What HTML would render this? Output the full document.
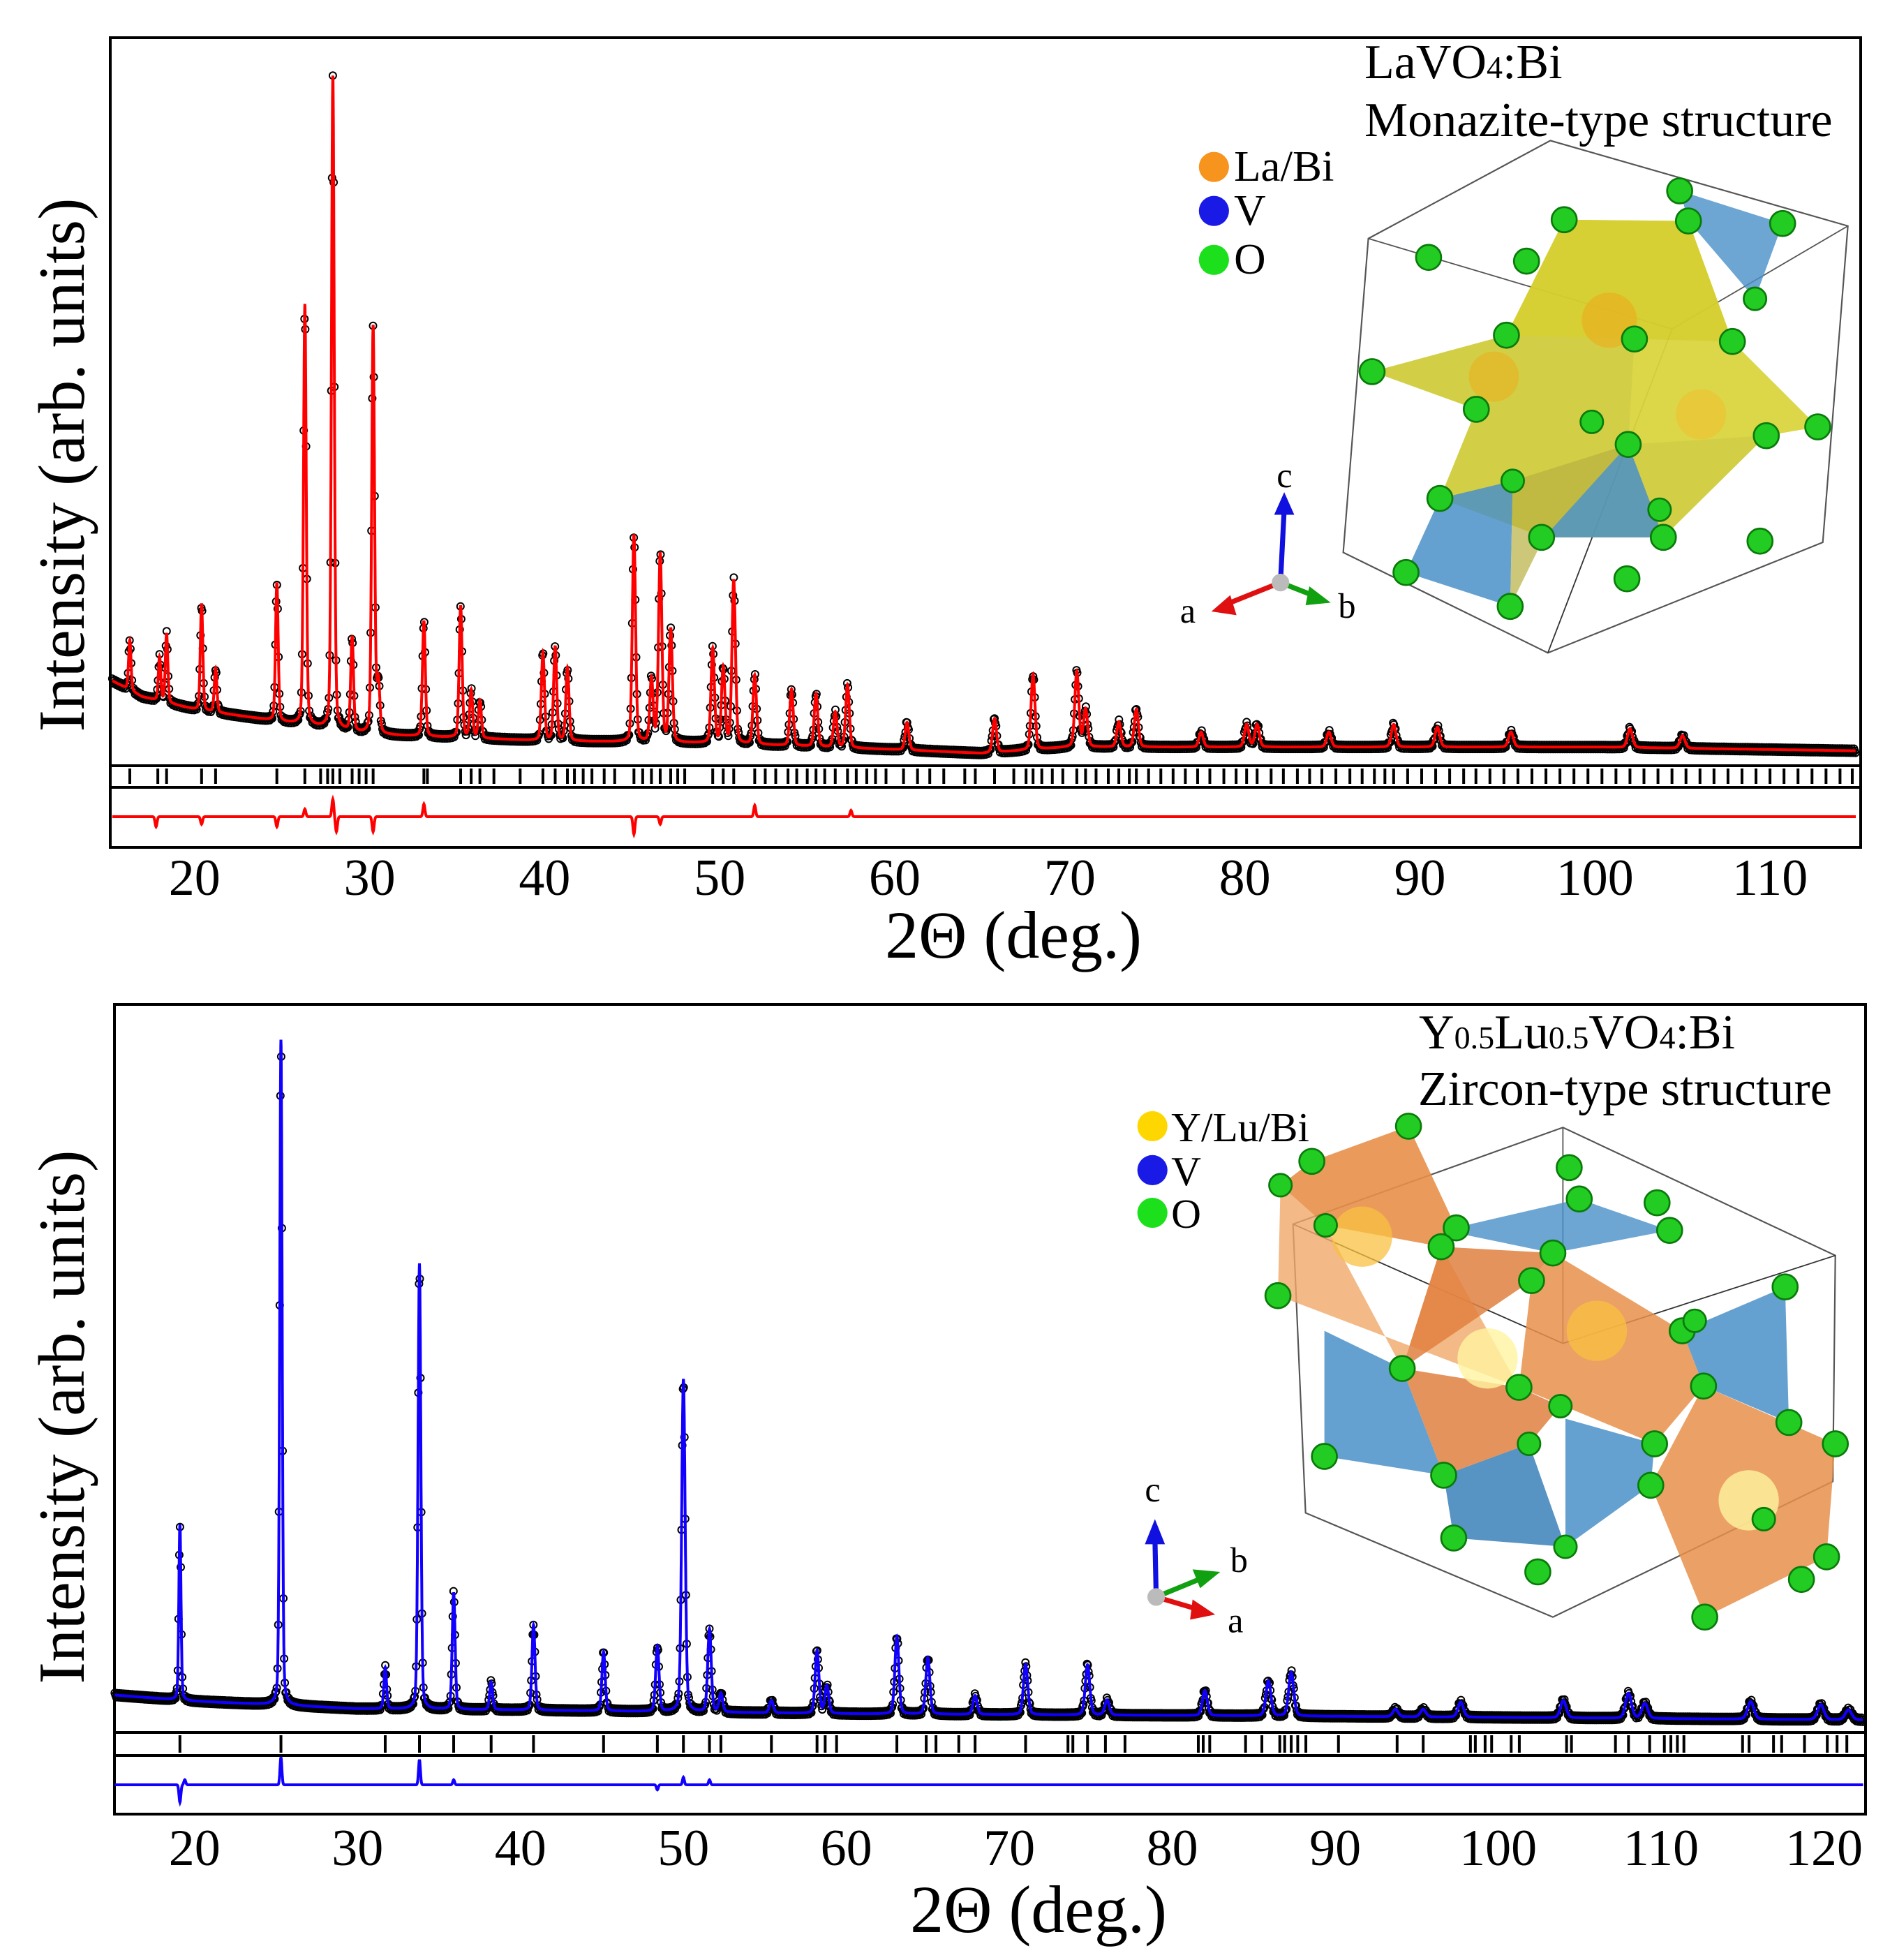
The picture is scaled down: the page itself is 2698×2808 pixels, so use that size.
<!DOCTYPE html>
<html><head><meta charset="utf-8"><title>XRD Rietveld refinement</title>
<style>
html,body{margin:0;padding:0;background:#fff}
svg{display:block}
text{font-family:"Liberation Serif",serif;fill:#000}
</style></head>
<body>
<svg id="fig" width="2698" height="2808" viewBox="0 0 2698 2808" xmlns="http://www.w3.org/2000/svg">
<rect width="2698" height="2808" fill="#fff"/>
<!-- TOP PANEL -->
<g id="top">
 <rect x="158" y="54" width="2508" height="1160" fill="none" stroke="#000" stroke-width="4"/>
 <line x1="158" y1="1097" x2="2666" y2="1097" stroke="#000" stroke-width="4"/>
 <line x1="158" y1="1128" x2="2666" y2="1128" stroke="#000" stroke-width="4"/>
 <g id="topObs"></g>
 <path id="topCalc" fill="none" stroke="#f00" stroke-width="4"/>
 <g id="topRefl"></g>
 <path id="topDiff" fill="none" stroke="#f00" stroke-width="4"/>
 <g id="topXT"></g>
 <text x="1452" y="1372" font-size="96" text-anchor="middle">2Θ (deg.)</text>
 <text transform="translate(120,666) rotate(-90)" font-size="94" text-anchor="middle">Intensity (arb. units)</text>
 <text x="1955" y="112" font-size="70">LaVO<tspan font-size="46">4</tspan>:Bi</text>
 <text x="1955" y="195" font-size="70">Monazite-type structure</text>
 <g transform="scale(1.7987)">
  <circle cx="967" cy="133" r="12" fill="#f7941d"/><text x="983" y="144" font-size="35">La/Bi</text>
  <circle cx="967" cy="168" r="12" fill="#1a1ae6"/><text x="983" y="179" font-size="35">V</text>
  <circle cx="967" cy="207" r="12" fill="#1be01b"/><text x="983" y="218" font-size="35">O</text>
 </g>
 <g transform="scale(1.7987)">
  <polygon points="1090,190 1235,112 1472,180 1452,432 1233,520 1070,440" fill="none" stroke="#555" stroke-width="1.2"/>
  <polyline points="1090,190 1332,262 1472,180" fill="none" stroke="#555" stroke-width="1"/>
  <line x1="1332" y1="262" x2="1233" y2="520" stroke="#333" stroke-width="1"/>
  <polygon points="1338,152 1420,178 1398,238 1345,176" fill="#4a90c8" opacity="0.8"/>
  <polygon points="1093,296 1200,267 1246,175 1345,176 1380,272 1448,340 1407,347 1325,428 1230,428 1147,397 1176,326" fill="#c8c41e" opacity="0.82"/>
  <polygon points="1246,175 1345,176 1380,272 1302,270 1200,267" fill="#d8d030" opacity="0.8"/>
  <polygon points="1302,270 1380,272 1448,340 1407,347 1297,354" fill="#e0d84a" opacity="0.7"/>
  <polygon points="1147,397 1205,383 1203,483 1120,456" fill="#4a90c8" opacity="0.85"/>
  <polygon points="1230,428 1297,354 1325,428" fill="#4a90c8" opacity="0.85"/>
  <polygon points="1205,383 1297,354 1230,428 1203,483" fill="#b8b040" opacity="0.7"/>
  <circle cx="1282" cy="255" r="22" fill="#e8b020" opacity="0.7"/>
  <circle cx="1190" cy="300" r="20" fill="#e8b020" opacity="0.6"/>
  <circle cx="1355" cy="330" r="20" fill="#f0c030" opacity="0.6"/>
  <g fill="#22cc22" stroke="#0a7a0a" stroke-width="1.5">
   <circle cx="1138" cy="205" r="10"/><circle cx="1216" cy="208" r="10"/><circle cx="1246" cy="175" r="10"/><circle cx="1345" cy="176" r="10"/><circle cx="1338" cy="152" r="10"/><circle cx="1420" cy="178" r="10"/><circle cx="1398" cy="238" r="9"/><circle cx="1200" cy="267" r="10"/><circle cx="1302" cy="270" r="10"/><circle cx="1380" cy="272" r="10"/><circle cx="1093" cy="296" r="10"/><circle cx="1176" cy="326" r="10"/><circle cx="1407" cy="347" r="10"/><circle cx="1448" cy="340" r="10"/><circle cx="1297" cy="354" r="10"/><circle cx="1268" cy="336" r="9"/><circle cx="1147" cy="397" r="10"/><circle cx="1205" cy="383" r="9"/><circle cx="1228" cy="428" r="10"/><circle cx="1325" cy="428" r="10"/><circle cx="1402" cy="431" r="10"/><circle cx="1120" cy="456" r="10"/><circle cx="1296" cy="461" r="10"/><circle cx="1203" cy="483" r="10"/><circle cx="1322" cy="406" r="9"/>
  </g>
  <g>
   <line x1="1020" y1="464" x2="1023" y2="405" stroke="#1010e0" stroke-width="4"/><polygon points="1015,410 1031,410 1023,392" fill="#1010e0"/>
   <line x1="1020" y1="464" x2="975" y2="482" stroke="#e01010" stroke-width="4"/><polygon points="980,474 985,490 965,487" fill="#e01010"/>
   <line x1="1020" y1="464" x2="1048" y2="475" stroke="#10a010" stroke-width="4"/><polygon points="1043,467 1040,482 1060,480" fill="#10a010"/>
   <circle cx="1020" cy="464" r="7" fill="#bbb"/>
   <text x="1017" y="388" font-size="28">c</text><text x="940" y="496" font-size="28">a</text><text x="1066" y="492" font-size="28">b</text>
  </g>
 </g>
</g>
<!-- BOTTOM PANEL -->
<g id="bot">
 <rect x="164" y="1439" width="2509" height="1160" fill="none" stroke="#000" stroke-width="4"/>
 <line x1="164" y1="2482" x2="2673" y2="2482" stroke="#000" stroke-width="4"/>
 <line x1="164" y1="2515" x2="2673" y2="2515" stroke="#000" stroke-width="4"/>
 <g id="botObs"></g>
 <path id="botCalc" fill="none" stroke="#10f" stroke-width="4"/>
 <g id="botRefl"></g>
 <path id="botDiff" fill="none" stroke="#10f" stroke-width="4"/>
 <g id="botXT"></g>
 <text x="1488" y="2768" font-size="96" text-anchor="middle">2Θ (deg.)</text>
 <text transform="translate(120,2030) rotate(-90)" font-size="94" text-anchor="middle">Intensity (arb. units)</text>
 <text x="2033" y="1502" font-size="70">Y<tspan font-size="46">0.5</tspan>Lu<tspan font-size="46">0.5</tspan>VO<tspan font-size="46">4</tspan>:Bi</text>
 <text x="2032" y="1583" font-size="70">Zircon-type structure</text>
 <g transform="scale(1.7987)">
  <circle cx="918" cy="897" r="12" fill="#ffd700"/><text x="933" y="909" font-size="33">Y/Lu/Bi</text>
  <circle cx="918" cy="932" r="12" fill="#1a1ae6"/><text x="933" y="944" font-size="33">V</text>
  <circle cx="918" cy="966" r="12" fill="#1be01b"/><text x="933" y="978" font-size="33">O</text>
 </g>
 <g transform="scale(1.7987)">
  <polygon points="1030,975 1245,898 1462,1000 1460,1180 1237,1288 1040,1205" fill="none" stroke="#555" stroke-width="1.2"/>
  <polyline points="1030,975 1245,1070 1462,1000" fill="none" stroke="#333" stroke-width="1"/>
  <line x1="1245" y1="898" x2="1245" y2="1070" stroke="#555" stroke-width="1"/>
  <polygon points="1150,980 1258,955 1330,980 1237,998" fill="#4a90c8" opacity="0.8"/>
  <polygon points="1055,1060 1117,1090 1150,1175 1055,1160" fill="#4a90c8" opacity="0.85"/>
  <polygon points="1340,1060 1422,1025 1425,1133 1357,1104" fill="#4a90c8" opacity="0.85"/>
  <polygon points="1150,1175 1218,1150 1247,1232 1158,1225" fill="#3a80b8" opacity="0.85"/>
  <polygon points="1247,1130 1318,1150 1315,1183 1247,1232" fill="#4a90c8" opacity="0.85"/>
  <polygon points="1045,925 1122,897 1160,978 1148,993 1056,976 1020,944" fill="#e8904a" opacity="0.9"/>
  <polygon points="1020,944 1056,976 1117,1090 1148,993 1210,1105 1018,1032" fill="#f0a868" opacity="0.8"/>
  <polygon points="1148,993 1237,998 1220,1020 1117,1090" fill="#e08040" opacity="0.85"/>
  <polygon points="1220,1020 1237,998 1340,1060 1357,1104 1318,1150 1210,1105" fill="#e8904a" opacity="0.85"/>
  <polygon points="1210,1105 1243,1120 1218,1150 1150,1175 1117,1090" fill="#e08040" opacity="0.85"/>
  <polygon points="1357,1104 1462,1150 1455,1240 1358,1288 1315,1183" fill="#e8904a" opacity="0.85"/>
  <circle cx="1085" cy="985" r="24" fill="#f8c040" opacity="0.75"/>
  <circle cx="1272" cy="1060" r="24" fill="#f8c040" opacity="0.75"/>
  <circle cx="1185" cy="1082" r="24" fill="#fff4a0" opacity="0.8"/>
  <circle cx="1393" cy="1195" r="24" fill="#fff4a0" opacity="0.8"/>
  <g fill="#22cc22" stroke="#0a7a0a" stroke-width="1.5">
   <circle cx="1122" cy="897" r="10"/><circle cx="1045" cy="925" r="10"/><circle cx="1020" cy="944" r="9"/><circle cx="1018" cy="1032" r="10"/><circle cx="1056" cy="976" r="9"/><circle cx="1160" cy="978" r="10"/><circle cx="1250" cy="930" r="10"/><circle cx="1320" cy="958" r="10"/><circle cx="1258" cy="955" r="10"/><circle cx="1330" cy="980" r="10"/><circle cx="1148" cy="993" r="10"/><circle cx="1220" cy="1020" r="10"/><circle cx="1237" cy="998" r="10"/><circle cx="1340" cy="1060" r="10"/><circle cx="1350" cy="1052" r="9"/><circle cx="1422" cy="1025" r="10"/><circle cx="1117" cy="1090" r="10"/><circle cx="1210" cy="1105" r="10"/><circle cx="1243" cy="1120" r="9"/><circle cx="1055" cy="1160" r="10"/><circle cx="1150" cy="1175" r="10"/><circle cx="1218" cy="1150" r="9"/><circle cx="1318" cy="1150" r="10"/><circle cx="1357" cy="1104" r="10"/><circle cx="1425" cy="1133" r="10"/><circle cx="1462" cy="1150" r="10"/><circle cx="1405" cy="1210" r="9"/><circle cx="1455" cy="1240" r="10"/><circle cx="1158" cy="1225" r="10"/><circle cx="1225" cy="1252" r="10"/><circle cx="1247" cy="1232" r="9"/><circle cx="1315" cy="1183" r="10"/><circle cx="1435" cy="1258" r="10"/><circle cx="1358" cy="1288" r="10"/>
  </g>
  <g>
   <line x1="921" y1="1272" x2="920" y2="1225" stroke="#1010e0" stroke-width="4"/><polygon points="912,1230 928,1230 920,1210" fill="#1010e0"/>
   <line x1="921" y1="1272" x2="955" y2="1258" stroke="#10a010" stroke-width="4"/><polygon points="950,1250 956,1265 972,1252" fill="#10a010"/>
   <line x1="921" y1="1272" x2="955" y2="1282" stroke="#e01010" stroke-width="4"/><polygon points="950,1274 948,1290 968,1286" fill="#e01010"/>
   <circle cx="921" cy="1272" r="7" fill="#bbb"/>
   <text x="912" y="1196" font-size="28">c</text><text x="980" y="1252" font-size="28">b</text><text x="978" y="1300" font-size="28">a</text>
  </g>
 </g>
</g>
</svg>
<script>
// ---------- TOP DATA (LaVO4:Bi) ----------
const topBgT = [15, 17, 20, 25, 30, 40, 50, 60, 65, 70, 80, 100, 115];
const topBgI = [60, 45, 35, 25, 15, 10, 8, 3, 0, 5, 5, 5, 2];
const topPeakT = [16.3,18.0,18.4,20.4,21.2,24.7,26.3,27.9,29.0,30.2,30.5,33.1,35.2,35.8,36.3,39.9,40.6,41.3,45.1,46.1,46.6,47.2,49.6,50.2,50.8,52.0,54.1,55.5,56.6,57.3,60.7,65.7,67.9,70.4,70.9,72.8,73.8,77.5,80.1,80.7,84.8,88.5,91.0,95.2,102.0,105.0];
const topPeakH = [40,35,55,85,35,110,335,520,75,325,40,92,105,38,30,70,75,58,165,50,150,90,75,60,130,55,45,42,28,50,22,27,60,60,30,20,30,12,18,18,12,18,16,12,15,10];
const topRefl = [16.3,17.9,18.4,20.4,21.2,24.7,26.3,27.2,27.6,27.9,28.3,29.0,29.4,29.8,30.2,33.1,33.3,35.2,35.8,36.3,37.1,38.6,39.9,40.6,41.3,41.7,42.2,42.7,43.4,44.0,45.1,45.6,46.1,46.6,47.2,47.6,48.0,49.6,50.2,50.8,52.0,52.6,53.2,53.9,54.4,55.0,55.5,56.0,56.6,57.3,57.8,58.4,58.9,59.5,60.5,61.3,62.0,62.8,64.0,64.6,65.7,66.8,67.5,67.9,68.4,69.0,69.6,70.4,70.9,71.5,72.2,72.8,73.4,73.8,74.5,75.2,75.9,76.6,77.3,78.0,78.8,79.5,80.1,80.7,81.5,82.2,83.0,83.7,84.4,85.2,86.0,86.7,87.4,88.0,88.5,89.3,90.1,90.9,91.7,92.5,93.2,94.0,94.8,95.6,96.4,97.2,98.0,98.8,99.6,100.4,101.2,102.0,102.8,103.6,104.4,105.2,106.0,106.8,107.6,108.4,109.2,110.0,110.8,111.6,112.4,113.2,114.0,114.7];
const topDiffT = [17.8,20.4,24.7,26.3,27.9,28.1,30.2,33.1,45.1,46.6,52.0,57.5];
const topDiffA = [-8,-6,-8,6,14,-12,-12,10,-14,-6,9,5];
const topXTicks = [20,30,40,50,60,70,80,90,100,110];
// ---------- BOTTOM DATA (Y0.5Lu0.5VO4:Bi) ----------
const botBgT = [15, 20, 30, 40, 60, 90, 122.5];
const botBgI = [15, 10, 4, 3, 0, -2, -5];
const botPeakT = [19.1,25.3,31.7,33.8,35.9,38.2,40.8,45.1,48.4,50.0,51.6,52.3,55.4,58.2,58.8,63.1,65.0,67.9,71.0,74.8,76.0,82.0,85.9,87.3,93.7,95.4,97.7,104.0,108.0,109.0,115.5,119.8,121.5];
const botPeakH = [140,530,33,355,93,22,68,47,52,265,66,15,10,50,22,62,45,15,40,40,12,20,28,35,6,6,12,14,20,12,14,12,8];
const botRefl = [19.1,25.3,31.7,33.8,35.9,38.2,40.8,45.1,48.4,50.0,51.6,52.3,55.4,58.2,58.7,59.4,63.1,64.9,65.5,66.9,67.9,71.0,73.6,73.9,74.8,75.9,77.1,81.6,81.9,82.3,84.5,85.5,86.6,86.9,87.3,87.7,88.2,90.2,93.8,95.4,98.3,98.6,99.2,99.6,100.8,101.3,104.2,104.5,107.2,108.0,109.3,110.2,110.6,111.0,111.4,115.0,115.4,116.9,117.4,118.8,120.2,120.8,121.4];
const botDiffT = [19.1,19.4,25.3,33.8,35.9,48.4,50.0,51.6];
const botDiffA = [-14,4,22,20,4,-4,6,4];
const botXTicks = [20,30,40,50,60,70,80,90,100,110,120];

const SVGNS = "http://www.w3.org/2000/svg";
const K = 1.7987;
// axis functions
function xTop(t){ return K*(155 + (t-20)*13.944); }
function yTop(i){ return K*(600 - i); }
function xBot(t){ return K*(155 + (t-20)*12.98); }
function yBot(i){ return K*(1365 - i); }

function interp(xs, ys, t){
  if (t <= xs[0]) return ys[0];
  for (let k=1;k<xs.length;k++){ if (t <= xs[k]){ const f=(t-xs[k-1])/(xs[k]-xs[k-1]); return ys[k-1]+f*(ys[k]-ys[k-1]); } }
  return ys[ys.length-1];
}
function profile(t, pT, pH, bT, bI, w0, w1){
  let s = interp(bT, bI, t);
  for (let k=0;k<pT.length;k++){
    const w = w0 + w1*pT[k];
    const d = (t-pT[k])/w;
    if (Math.abs(d) > 30) continue;
    s += pH[k]*(0.75*Math.exp(-4*Math.LN2*d*d) + 0.25/(1+4*d*d));
  }
  return s;
}
function draw(cfg){
  const calc = document.getElementById(cfg.calc);
  let d = "";
  for (let t=cfg.t0; t<=cfg.t1; t+=0.01){
    const I = profile(t, cfg.pT, cfg.pH, cfg.bT, cfg.bI, cfg.w0, cfg.w1);
    d += (d?"L":"M") + cfg.x(t).toFixed(1) + " " + cfg.y(I).toFixed(1);
  }
  calc.setAttribute("d", d);
  const obs = document.getElementById(cfg.obs);
  let n = 0;
  for (let t=cfg.t0; t<=cfg.t1; t+=0.045){
    const I = profile(t, cfg.pT, cfg.pH, cfg.bT, cfg.bI, cfg.w0, cfg.w1);
    const c = document.createElementNS(SVGNS, "circle");
    
    
    const off = (n % 3 - 1) * 3;
    n++;
    c.setAttribute("cx", cfg.x(t).toFixed(1));
    c.setAttribute("cy", (cfg.y(I) + off).toFixed(1));
    c.setAttribute("r", "5");
    c.setAttribute("fill", "none");
    c.setAttribute("stroke", "#000");
    c.setAttribute("stroke-width", "2");
    obs.appendChild(c);
  }
  calc.parentNode.insertBefore(obs, calc);
  const refl = document.getElementById(cfg.refl);
  for (const t of cfg.rT){
    const l = document.createElementNS(SVGNS, "line");
    
    
    l.setAttribute("x1", cfg.x(t)); l.setAttribute("x2", cfg.x(t));
    l.setAttribute("y1", cfg.r0); l.setAttribute("y2", cfg.r1);
    l.setAttribute("stroke", "#000"); l.setAttribute("stroke-width", "4");
    refl.appendChild(l);
  }
  let dd = "";
  for (let t=cfg.t0; t<=cfg.t1; t+=0.02){
    let v = 0;
    for (let k=0;k<cfg.dT.length;k++){ const q=(t-cfg.dT[k])/0.08; v += cfg.dA[k]*Math.exp(-q*q); }
    dd += (dd?"L":"M") + cfg.x(t).toFixed(1) + " " + (cfg.dY - K*v).toFixed(1);
  }
  document.getElementById(cfg.diff).setAttribute("d", dd);
  const xt = document.getElementById(cfg.xt);
  for (const v of cfg.ticks){
    const tx = document.createElementNS(SVGNS, "text");
    
    
    tx.setAttribute("x", cfg.x(v)); tx.setAttribute("y", cfg.ty);
    tx.setAttribute("font-size", "74"); tx.setAttribute("text-anchor", "middle");
    tx.textContent = v;
    xt.appendChild(tx);
  }
}
draw({calc:"topCalc",obs:"topObs",refl:"topRefl",diff:"topDiff",xt:"topXT",x:xTop,y:yTop,t0:15.3,t1:114.9,
  pT:topPeakT,pH:topPeakH,bT:topBgT,bI:topBgI,w0:0.13,w1:0.002,rT:topRefl,r0:1101,r1:1123,
  dT:topDiffT,dA:topDiffA,dY:1170,ticks:topXTicks,ty:1282});
draw({calc:"botCalc",obs:"botObs",refl:"botRefl",diff:"botDiff",xt:"botXT",x:xBot,y:yBot,t0:15.1,t1:122.4,
  pT:botPeakT,pH:botPeakH,bT:botBgT,bI:botBgI,w0:0.1,w1:0.003,rT:botRefl,r0:2486,r1:2511,
  dT:botDiffT,dA:botDiffA,dY:2557,ticks:botXTicks,ty:2672});
</script>
</body></html>
